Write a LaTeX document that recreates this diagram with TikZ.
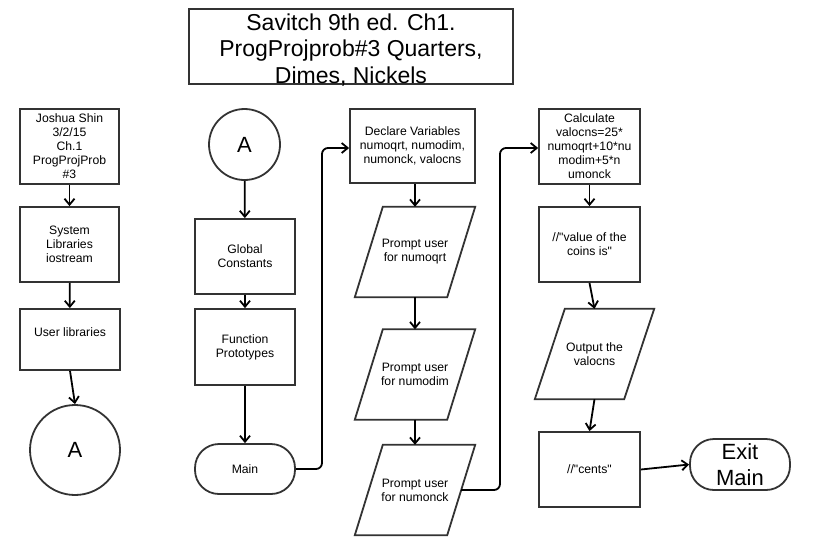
\documentclass[tikz,border=0pt]{standalone}
\usepackage{fontspec}
\setmainfont{Liberation Sans}
\usetikzlibrary{arrows.meta}
\definecolor{edge}{HTML}{333333}
\tikzset{
  x=1pt, y=-1pt,
  shp/.style={draw=edge, line width=1.8pt},
  small/.style={font=\fontsize{12.2}{14}\selectfont, align=center},
  box/.style={shp, small, rectangle, inner sep=1pt},
  term/.style={shp, small, rectangle, rounded corners=24pt, inner sep=1pt},
  conn/.style={circle, shp, inner sep=0pt, font=\fontsize{22}{26}\selectfont},
  iobox/.style={small, rectangle, inner sep=1pt},
  para/.style={shp},
  arr/.style={line width=1.8pt, draw=black, -{Straight Barb[length=6pt,width=10pt,line width=1.8pt]}},
  link/.style={arr, rounded corners=6pt}
}
\begin{document}
\begin{tikzpicture}
\useasboundingbox (0,0) rectangle (816,555);
% title
\node[shp, rectangle, minimum width=324pt, minimum height=75pt, inner sep=0pt, align=center,
      font=\fontsize{23}{26.5}\selectfont] (title) at (351,46.5)
      {\rule{0pt}{20pt}Savitch 9th ed. Ch1.\\ProgProjprob\#3 Quarters,\\\smash{Dimes, Nickels}};
% column 1
\node[box, minimum width=99pt, minimum height=75pt] (josh) at (69.5,146.5)
      {Joshua Shin\\3/2/15\\Ch.1\\ProgProjProb\\\#3};
\node[box, minimum width=99pt, minimum height=75pt] (sys) at (69.5,244.5)
      {System\\Libraries\\iostream};
\node[box, minimum width=100pt, minimum height=61pt] (user) at (70,339.5)
      {User libraries\\\mbox{}};
\node[conn, minimum size=90pt] (a1) at (75,450) {A};
% column 2
\node[conn, minimum size=71pt] (a2) at (244.5,144.5) {A};
\node[box, minimum width=100pt, minimum height=75pt] (glob) at (245,256.5)
      {Global\\Constants};
\node[box, minimum width=100pt, minimum height=76pt] (proto) at (245,347)
      {Function\\Prototypes};
\node[term, minimum width=100pt, minimum height=50pt] (main) at (245,469) {Main};
% column 3
\node[box, minimum width=125pt, minimum height=74pt] (decl) at (412.5,146)
      {Declare Variables\\numoqrt, numodim,\\numonck, valocns};
\node[iobox, minimum width=120pt, minimum height=90pt] (p1) at (415,252) {Prompt user\\for numoqrt};
\node[iobox, minimum width=120pt, minimum height=90pt] (p2) at (415,374.5) {Prompt user\\for numodim};
\node[iobox, minimum width=120pt, minimum height=90pt] (p3) at (415,490) {Prompt user\\for numonck};
\foreach \p in {p1,p2,p3}{
  \draw[para] ([xshift=28pt]\p.north west) -- (\p.north east) -- ([xshift=-28pt]\p.south east) -- (\p.south west) -- cycle;
}
% column 4
\node[box, minimum width=101pt, minimum height=75pt] (calc) at (589.5,146.5)
      {Calculate\\valocns=25*\\numoqrt+10*nu\\modim+5*n\\umonck};
\node[box, minimum width=101pt, minimum height=75pt] (val) at (589.5,244.5)
      {//\textquotedbl value of the\\coins is\textquotedbl};
\node[iobox, minimum width=119pt, minimum height=90pt] (out) at (594.5,354) {Output the\\valocns};
\draw[para] ([xshift=30pt]out.north west) -- (out.north east) -- ([xshift=-30pt]out.south east) -- (out.south west) -- cycle;
\node[box, minimum width=101pt, minimum height=75pt] (cents) at (589.5,469.5) {//\textquotedbl cents\textquotedbl};
\node[term, minimum width=100pt, minimum height=51pt, font=\fontsize{22}{26}\selectfont] (exit) at (740,464.5) {Exit\\Main};
% connectors
\draw[arr] (josh) -- (sys);
\draw[arr] (sys) -- (user);
\draw[arr] (user.south) -- (a1.north);
\draw[arr] (a2) -- (glob);
\draw[arr] (glob) -- (proto);
\draw[arr] (proto) -- (main);
\draw[link] (main.east) -- (322,469) -- (322,148) -- (decl.west |- 0,148);
\draw[arr] (p1.north |- decl.south) -- (p1.north);
\draw[arr] (p1) -- (p2);
\draw[arr] (p2) -- (p3);
\coordinate (p3r) at ([xshift=-14pt]p3.east);
\draw[link] (p3r) -- (500,490) -- (500,148) -- (calc.west |- 0,148);
\draw[arr] (calc) -- (val);
\draw[arr] (val.south) -- (out.north);
\draw[arr] (out.south) -- (cents.north);
\draw[arr] (cents.east) -- (exit.west);
\end{tikzpicture}
\end{document}
